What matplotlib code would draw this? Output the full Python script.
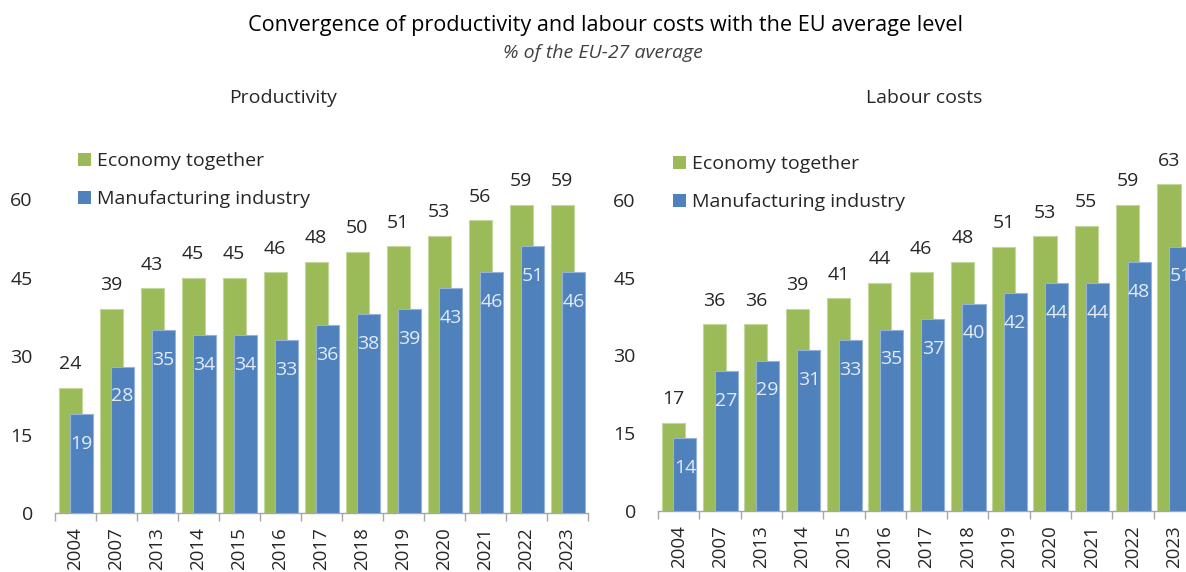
import numpy as np
import matplotlib
matplotlib.use('Agg')
from matplotlib import pyplot as plt
from matplotlib.patches import Patch

plt.rcParams['font.family'] = ['Open Sans', 'DejaVu Sans']

years = ['2004', '2007', '2013', '2014', '2015', '2016', '2017',
         '2018', '2019', '2020', '2021', '2022', '2023']

# productivity, % of EU-27 average
prod_economy = [24, 39, 43, 45, 45, 46, 48, 50, 51, 53, 56, 59, 59]
prod_manuf = [19, 28, 35, 34, 34, 33, 36, 38, 39, 43, 46, 51, 46]

# labour costs, % of EU-27 average
labour_economy = [17, 36, 36, 39, 41, 44, 46, 48, 51, 53, 55, 59, 63]
labour_manuf = [14, 27, 29, 31, 33, 35, 37, 40, 42, 44, 44, 48, 51]

series_names = ['Economy together', 'Manufacturing industry']
yticks = [0, 15, 30, 45, 60]

GREEN = '#9BBB59'
BLUE = '#4F81BD'
TEXT = '#262626'
AXIS = '#A6A6A6'
FS = 14


def draw_panel(ax, title, economy, manuf, title_x, legend_anchor):
    x = np.arange(len(years))
    w = 0.56
    g = ax.bar(x - 0.13, economy, w, color=GREEN, edgecolor='#C3D69B', linewidth=0.8, zorder=2)
    b = ax.bar(x + 0.15, manuf, w, color=BLUE, edgecolor='#95B3D7', linewidth=0.8, zorder=3)

    for rect, v in zip(g, economy):
        ax.annotate(str(v), (rect.get_x() + rect.get_width() / 2, v),
                    xytext=(0, 17), textcoords='offset points',
                    ha='center', va='center', fontsize=FS, color=TEXT)
    for rect, v in zip(b, manuf):
        ax.annotate(str(v), (rect.get_x() + rect.get_width() / 2, v),
                    xytext=(0, -21.5), textcoords='offset points',
                    ha='center', va='center', fontsize=FS, color='#E3EBF5', zorder=4)

    ax.set_xlim(-0.5, len(years) - 0.5)
    ax.set_ylim(0, 70)
    ax.set_yticks(yticks)
    ax.set_xticks(x)
    ax.set_xticklabels(years, rotation=90)
    ax.set_xticks(np.arange(len(years) + 1) - 0.5, minor=True)
    ax.tick_params(axis='x', which='major', length=0, pad=10, labelsize=13.5, labelcolor=TEXT)
    ax.tick_params(axis='x', which='minor', length=6, width=1, color=AXIS)
    ax.tick_params(axis='y', length=0, pad=16, labelsize=FS, labelcolor=TEXT)
    for s in ['top', 'right', 'left']:
        ax.spines[s].set_visible(False)
    ax.spines['bottom'].set_color(AXIS)
    ax.spines['bottom'].set_linewidth(1)

    fig = ax.figure
    fig.text(title_x, 1 - 98 / 572, title, ha='center', va='center', fontsize=FS, color=TEXT)

    handles = [Patch(facecolor=GREEN), Patch(facecolor=BLUE)]
    ax.legend(handles, series_names, loc='upper left', bbox_to_anchor=legend_anchor,
              bbox_transform=fig.transFigure, frameon=False, fontsize=FS,
              handlelength=0.65, handleheight=0.65, handletextpad=0.35,
              labelspacing=1.05, borderaxespad=0, borderpad=0, labelcolor=TEXT)


fig = plt.figure(figsize=(11.86, 5.72), dpi=100)

ax1 = fig.add_axes([55 / 1186, 59 / 572, 533 / 1186, 366 / 572])
ax2 = fig.add_axes([658 / 1186, 61 / 572, 537 / 1186, 363 / 572])

draw_panel(ax1, 'Productivity', prod_economy, prod_manuf, 283 / 1186, (78 / 1186, 1 - 152 / 572))
draw_panel(ax2, 'Labour costs', labour_economy, labour_manuf, 924 / 1186, (673 / 1186, 1 - 155 / 572))

fig.text(605 / 1186, 1 - 25 / 572, 'Convergence of productivity and labour costs with the EU average level',
         ha='center', va='center', fontsize=15.6, color='black')
fig.text(603 / 1186, 1 - 53 / 572, '% of the EU-27 average', ha='center', va='center',
         fontsize=14, style='italic', color='#404040')

fig.savefig('out.png', dpi=100)
